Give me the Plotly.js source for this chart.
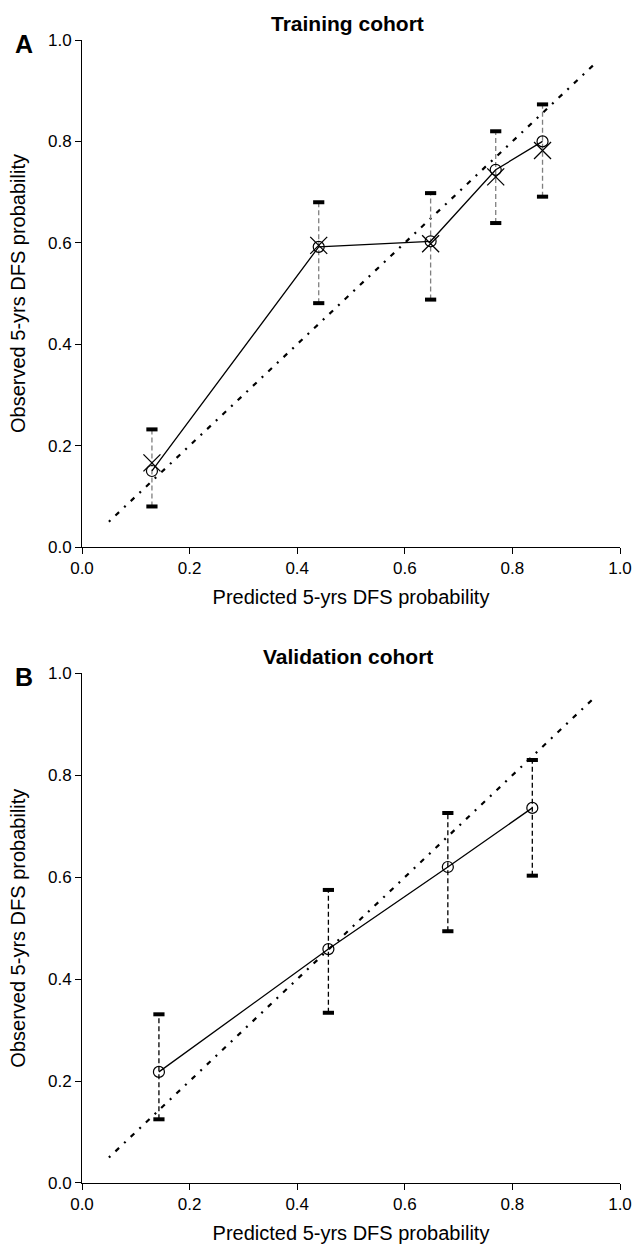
<!DOCTYPE html>
<html>
<head>
<meta charset="utf-8">
<script src="https://cdn.plot.ly/plotly-3.0.1.min.js"></script>
<style>html,body{margin:0;padding:0;background:#fff;}#chart{width:636px;height:1246px;}</style>
</head>
<body>
<div id="chart"></div>
<script>
// Panel A: Training cohort
const predA = [0.130, 0.440, 0.648, 0.769, 0.856];
const obsA  = [0.150, 0.592, 0.603, 0.744, 0.800];
const corrA = [0.166, 0.595, 0.598, 0.730, 0.782];
const loA   = [0.080, 0.481, 0.488, 0.639, 0.691];
const hiA   = [0.232, 0.680, 0.698, 0.820, 0.873];

// Panel B: Validation cohort
const predB = [0.143, 0.458, 0.680, 0.837];
const obsB  = [0.218, 0.459, 0.620, 0.736];
const loB   = [0.125, 0.334, 0.494, 0.603];
const hiB   = [0.331, 0.575, 0.726, 0.830];

// Reference (ideal) line
const idealX = [0.05, 0.95];
const idealY = [0.05, 0.95];

const tickVals = [0, 0.2, 0.4, 0.6, 0.8, 1.0];
const tickText = ["0.0", "0.2", "0.4", "0.6", "0.8", "1.0"];

const FONT = "Liberation Sans, Arial, Helvetica, sans-serif";

function whisker(xs, lo, hi) {
  const x = [], y = [];
  xs.forEach((v, i) => { x.push(v, v, null); y.push(lo[i], hi[i], null); });
  return {x, y};
}

function panelTraces(pred, obs, lo, hi, corr, xa, ya, whiskColor) {
  const w = whisker(pred, lo, hi);
  const tr = [];
  tr.push({x: idealX, y: idealY, xaxis: xa, yaxis: ya, mode: 'lines', type: 'scatter',
    line: {color: '#000', width: 2.2, dash: '2px,7px,5px,7px'}, hoverinfo: 'skip'});
  tr.push({x: w.x, y: w.y, xaxis: xa, yaxis: ya, mode: 'lines', type: 'scatter',
    line: {color: whiskColor, width: 1.3, dash: '5px,3px'}, hoverinfo: 'skip'});
  tr.push({x: pred.concat(pred), y: lo.concat(hi), xaxis: xa, yaxis: ya, mode: 'markers', type: 'scatter',
    marker: {symbol: 'line-ew', size: 8, color: '#000', line: {color: '#000', width: 4}}, hoverinfo: 'skip'});
  tr.push({x: pred, y: obs, xaxis: xa, yaxis: ya, mode: 'lines+markers', type: 'scatter',
    line: {color: '#000', width: 1.3},
    marker: {symbol: 'circle-open', size: 11, color: '#000', line: {color: '#000', width: 1.2}}});
  if (corr) {
    tr.push({x: pred, y: corr, xaxis: xa, yaxis: ya, mode: 'markers', type: 'scatter',
      marker: {symbol: 'x-thin-open', size: 17, color: '#000', line: {color: '#000', width: 1.3}}});
  }
  return tr;
}

const data = [].concat(
  panelTraces(predA, obsA, loA, hiA, corrA, 'x', 'y', '#7f7f7f'),
  panelTraces(predB, obsB, loB, hiB, null, 'x2', 'y2', '#000')
);

function xAxis(anchor) {
  return {
    anchor: anchor, domain: [0, 1], range: [0, 1], showgrid: false, zeroline: false,
    showline: true, linecolor: '#000', linewidth: 1, ticks: 'outside', ticklen: 6, tickwidth: 1, tickcolor: '#000',
    tickvals: tickVals, ticktext: tickText, tickfont: {family: FONT, size: 17, color: '#000'},
    title: {text: 'Predicted 5-yrs DFS probability', font: {family: FONT, size: 20, color: '#000'}, standoff: 12}
  };
}
function yAxis(anchor, dom) {
  return {
    anchor: anchor, domain: dom, range: [0, 1], showgrid: false, zeroline: false,
    showline: true, linecolor: '#000', linewidth: 1, ticks: 'outside', ticklen: 6, tickwidth: 1, tickcolor: '#000',
    tickvals: tickVals, ticktext: tickText, tickfont: {family: FONT, size: 17, color: '#000'},
    title: {text: 'Observed 5-yrs DFS probability', font: {family: FONT, size: 20, color: '#000'}, standoff: 16}
  };
}

const layout = {
  width: 636, height: 1246,
  margin: {l: 82, r: 16, t: 40, b: 63},
  paper_bgcolor: '#fff', plot_bgcolor: '#fff',
  showlegend: false,
  font: {family: FONT, color: '#000'},
  xaxis: xAxis('y'),
  yaxis: yAxis('x', [0.5564, 1]),
  xaxis2: xAxis('y2'),
  yaxis2: yAxis('x2', [0, 0.4459]),
  annotations: [
    {text: '<b>Training cohort</b>', xref: 'paper', yref: 'paper', x: 0.494, y: 1.014,
      xanchor: 'center', yanchor: 'middle', showarrow: false, font: {family: FONT, size: 21, color: '#000'}},
    {text: '<b>Validation cohort</b>', xref: 'paper', yref: 'paper', x: 0.494, y: 0.4602,
      xanchor: 'center', yanchor: 'middle', showarrow: false, font: {family: FONT, size: 21, color: '#000'}},
    {text: '<b>A</b>', xref: 'paper', yref: 'paper', x: -0.108, y: 0.9965,
      xanchor: 'center', yanchor: 'middle', showarrow: false, font: {family: FONT, size: 25, color: '#000'}},
    {text: '<b>B</b>', xref: 'paper', yref: 'paper', x: -0.107, y: 0.443,
      xanchor: 'center', yanchor: 'middle', showarrow: false, font: {family: FONT, size: 25, color: '#000'}}
  ]
};

Plotly.newPlot('chart', data, layout, {displayModeBar: false, staticPlot: true});
</script>
</body>
</html>
